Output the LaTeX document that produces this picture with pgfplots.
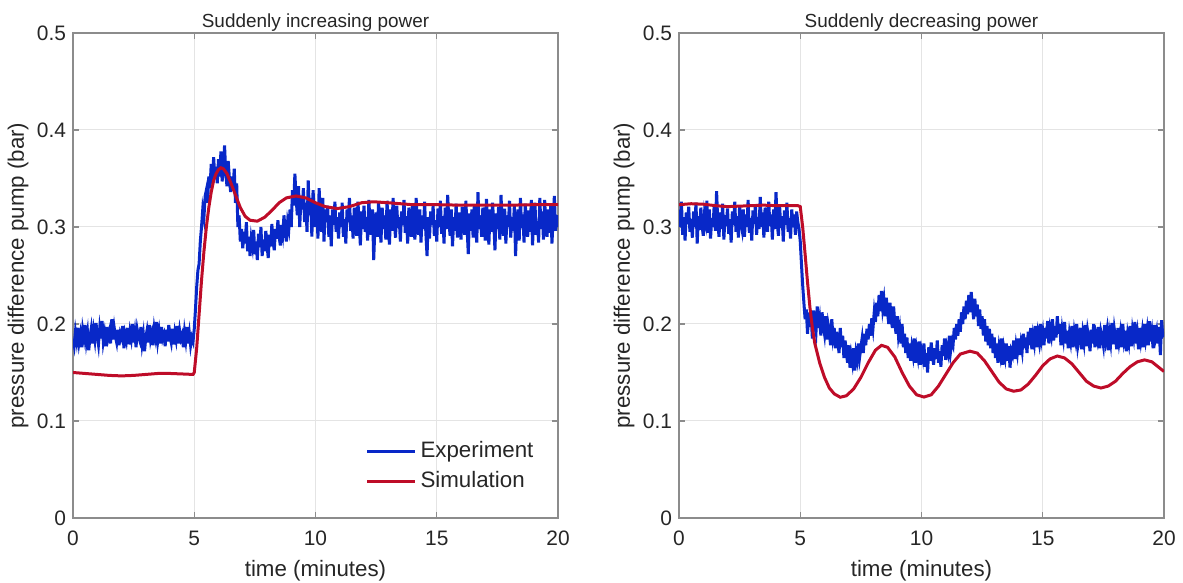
\documentclass[border=0pt]{standalone}
\usepackage{fontspec}
\setmainfont{Liberation Sans}
\usepackage{pgfplots}
\pgfplotsset{compat=1.18}
\usepackage{pgfplotstable}
\definecolor{expblue}{RGB}{8,40,200}
\definecolor{simred}{RGB}{190,12,40}
\definecolor{axgray}{RGB}{140,140,140}
\definecolor{gridgray}{RGB}{228,228,228}
\definecolor{txtgray}{RGB}{38,38,38}

% Experiment, left (sampled every 0.05 min from t=0 to t=20)
\pgfplotstableread[row sep=\\]{y\\
0.185\\0.178\\0.192\\0.183\\0.196\\0.181\\0.189\\0.176\\0.194\\0.186\\
0.199\\0.182\\0.191\\0.173\\0.187\\0.195\\0.180\\0.193\\0.184\\0.201\\
0.188\\0.179\\0.195\\0.185\\0.203\\0.182\\0.190\\0.177\\0.197\\0.186\\
0.192\\0.180\\0.205\\0.184\\0.196\\0.187\\0.181\\0.194\\0.178\\0.190\\
0.186\\0.198\\0.175\\0.189\\0.183\\0.196\\0.179\\0.192\\0.185\\0.200\\
0.181\\0.191\\0.176\\0.194\\0.187\\0.183\\0.197\\0.180\\0.189\\0.172\\
0.186\\0.193\\0.181\\0.199\\0.184\\0.190\\0.178\\0.195\\0.187\\0.202\\
0.183\\0.192\\0.180\\0.197\\0.185\\0.189\\0.177\\0.194\\0.182\\0.199\\
0.187\\0.181\\0.195\\0.179\\0.191\\0.184\\0.198\\0.180\\0.193\\0.185\\
0.189\\0.176\\0.192\\0.183\\0.197\\0.180\\0.190\\0.178\\0.186\\0.182\\
0.195\\0.215\\0.238\\0.255\\0.262\\0.285\\0.300\\0.318\\0.310\\0.332\\
0.338\\0.325\\0.352\\0.340\\0.365\\0.348\\0.372\\0.350\\0.362\\0.345\\
0.370\\0.352\\0.378\\0.347\\0.360\\0.384\\0.355\\0.342\\0.368\\0.350\\
0.336\\0.352\\0.340\\0.360\\0.325\\0.345\\0.300\\0.312\\0.285\\0.298\\
0.278\\0.295\\0.283\\0.305\\0.275\\0.290\\0.270\\0.288\\0.280\\0.297\\
0.272\\0.285\\0.266\\0.293\\0.279\\0.300\\0.270\\0.287\\0.275\\0.296\\
0.282\\0.268\\0.292\\0.280\\0.303\\0.285\\0.276\\0.298\\0.288\\0.307\\
0.290\\0.281\\0.302\\0.293\\0.312\\0.296\\0.285\\0.305\\0.298\\0.318\\
0.300\\0.338\\0.322\\0.355\\0.330\\0.312\\0.342\\0.300\\0.330\\0.318\\
0.340\\0.305\\0.325\\0.295\\0.348\\0.312\\0.330\\0.290\\0.338\\0.315\\
0.300\\0.325\\0.288\\0.340\\0.310\\0.295\\0.330\\0.285\\0.318\\0.305\\
0.322\\0.290\\0.312\\0.280\\0.318\\0.302\\0.326\\0.295\\0.310\\0.288\\
0.315\\0.300\\0.325\\0.290\\0.308\\0.283\\0.318\\0.305\\0.330\\0.296\\
0.312\\0.288\\0.320\\0.302\\0.291\\0.326\\0.305\\0.281\\0.316\\0.298\\
0.322\\0.295\\0.310\\0.286\\0.328\\0.303\\0.292\\0.318\\0.266\\0.300\\
0.315\\0.290\\0.325\\0.305\\0.284\\0.320\\0.298\\0.312\\0.287\\0.327\\
0.300\\0.282\\0.318\\0.296\\0.330\\0.305\\0.289\\0.322\\0.299\\0.310\\
0.285\\0.316\\0.302\\0.328\\0.294\\0.311\\0.283\\0.320\\0.305\\0.290\\
0.324\\0.300\\0.287\\0.330\\0.306\\0.292\\0.318\\0.284\\0.312\\0.298\\
0.326\\0.294\\0.270\\0.310\\0.288\\0.316\\0.302\\0.322\\0.291\\0.307\\
0.285\\0.319\\0.300\\0.327\\0.293\\0.311\\0.283\\0.320\\0.298\\0.333\\
0.306\\0.291\\0.318\\0.280\\0.310\\0.296\\0.324\\0.289\\0.315\\0.301\\
0.287\\0.321\\0.305\\0.292\\0.327\\0.300\\0.272\\0.314\\0.296\\0.318\\
0.289\\0.323\\0.303\\0.284\\0.336\\0.298\\0.312\\0.290\\0.320\\0.305\\
0.286\\0.329\\0.300\\0.282\\0.318\\0.295\\0.325\\0.306\\0.276\\0.314\\
0.298\\0.321\\0.287\\0.333\\0.302\\0.291\\0.319\\0.283\\0.312\\0.300\\
0.327\\0.289\\0.310\\0.296\\0.322\\0.270\\0.305\\0.318\\0.286\\0.330\\
0.299\\0.313\\0.284\\0.324\\0.302\\0.290\\0.317\\0.295\\0.328\\0.281\\
0.310\\0.325\\0.292\\0.306\\0.284\\0.330\\0.298\\0.316\\0.287\\0.328\\
0.301\\0.290\\0.318\\0.294\\0.323\\0.283\\0.308\\0.332\\0.296\\0.312\\
0.300\\
}\expL

% Experiment, right (sampled every 0.05 min)
\pgfplotstableread[row sep=\\]{y\\
0.318\\0.300\\0.326\\0.292\\0.310\\0.286\\0.315\\0.303\\0.321\\0.295\\
0.308\\0.289\\0.316\\0.300\\0.325\\0.283\\0.311\\0.297\\0.320\\0.302\\
0.291\\0.313\\0.305\\0.327\\0.294\\0.318\\0.288\\0.309\\0.300\\0.322\\
0.296\\0.337\\0.304\\0.290\\0.315\\0.298\\0.324\\0.287\\0.312\\0.301\\
0.319\\0.293\\0.308\\0.284\\0.316\\0.302\\0.326\\0.295\\0.311\\0.289\\
0.322\\0.304\\0.297\\0.318\\0.290\\0.313\\0.300\\0.328\\0.294\\0.309\\
0.286\\0.317\\0.303\\0.323\\0.292\\0.310\\0.298\\0.331\\0.300\\0.315\\
0.289\\0.320\\0.306\\0.295\\0.326\\0.301\\0.313\\0.287\\0.318\\0.298\\
0.336\\0.304\\0.291\\0.321\\0.299\\0.311\\0.285\\0.317\\0.302\\0.325\\
0.295\\0.309\\0.288\\0.318\\0.300\\0.313\\0.292\\0.316\\0.305\\0.298\\
0.285\\0.262\\0.240\\0.222\\0.205\\0.215\\0.190\\0.212\\0.197\\0.208\\
0.185\\0.214\\0.200\\0.192\\0.218\\0.196\\0.205\\0.188\\0.212\\0.199\\
0.190\\0.208\\0.184\\0.200\\0.193\\0.178\\0.205\\0.187\\0.196\\0.175\\
0.192\\0.181\\0.170\\0.196\\0.176\\0.188\\0.165\\0.183\\0.172\\0.160\\
0.178\\0.155\\0.168\\0.160\\0.175\\0.152\\0.170\\0.163\\0.180\\0.166\\
0.176\\0.185\\0.170\\0.190\\0.178\\0.195\\0.184\\0.200\\0.188\\0.206\\
0.196\\0.212\\0.202\\0.222\\0.208\\0.230\\0.213\\0.234\\0.216\\0.225\\
0.208\\0.227\\0.212\\0.200\\0.222\\0.205\\0.196\\0.218\\0.200\\0.190\\
0.208\\0.188\\0.196\\0.180\\0.200\\0.176\\0.190\\0.170\\0.186\\0.165\\
0.180\\0.162\\0.176\\0.168\\0.185\\0.160\\0.174\\0.166\\0.182\\0.158\\
0.172\\0.165\\0.180\\0.156\\0.170\\0.150\\0.176\\0.162\\0.181\\0.168\\
0.158\\0.175\\0.164\\0.183\\0.160\\0.172\\0.156\\0.178\\0.167\\0.185\\
0.163\\0.176\\0.170\\0.188\\0.172\\0.182\\0.178\\0.196\\0.184\\0.200\\
0.188\\0.205\\0.192\\0.212\\0.200\\0.218\\0.205\\0.224\\0.210\\0.230\\
0.212\\0.233\\0.218\\0.205\\0.226\\0.208\\0.220\\0.198\\0.215\\0.195\\
0.208\\0.188\\0.205\\0.182\\0.198\\0.178\\0.195\\0.175\\0.190\\0.170\\
0.186\\0.165\\0.180\\0.160\\0.176\\0.168\\0.185\\0.158\\0.174\\0.166\\
0.180\\0.162\\0.177\\0.155\\0.172\\0.168\\0.183\\0.164\\0.178\\0.170\\
0.185\\0.168\\0.180\\0.172\\0.190\\0.175\\0.186\\0.170\\0.192\\0.178\\
0.196\\0.174\\0.188\\0.180\\0.198\\0.176\\0.190\\0.182\\0.200\\0.184\\
0.192\\0.178\\0.196\\0.185\\0.203\\0.180\\0.195\\0.188\\0.205\\0.183\\
0.198\\0.186\\0.208\\0.190\\0.200\\0.178\\0.194\\0.185\\0.202\\0.180\\
0.193\\0.175\\0.190\\0.182\\0.198\\0.176\\0.192\\0.184\\0.200\\0.178\\
0.186\\0.196\\0.174\\0.190\\0.181\\0.199\\0.177\\0.193\\0.185\\0.172\\
0.194\\0.180\\0.200\\0.176\\0.189\\0.183\\0.197\\0.175\\0.192\\0.186\\
0.178\\0.199\\0.184\\0.193\\0.173\\0.190\\0.181\\0.201\\0.179\\0.195\\
0.186\\0.174\\0.196\\0.182\\0.191\\0.176\\0.200\\0.184\\0.193\\0.172\\
0.189\\0.181\\0.198\\0.177\\0.194\\0.186\\0.202\\0.180\\0.190\\0.174\\
0.196\\0.183\\0.192\\0.176\\0.200\\0.185\\0.194\\0.178\\0.203\\0.182\\
0.191\\0.175\\0.199\\0.186\\0.193\\0.180\\0.197\\0.168\\0.204\\0.188\\
0.190\\
}\expR

\pgfplotsset{
  myax/.style={
    width=242.5bp, height=242.5bp, scale only axis,
    xmin=0, xmax=20, ymin=0, ymax=0.5,
    xtick={0,5,10,15,20},
    ytick={0,0.1,0.2,0.3,0.4,0.5},
    /pgf/number format/assume math mode=true,
    grid=major,
    major grid style={gridgray, line width=0.5bp},
    axis line style={axgray, line width=0.6bp},
    tick style={axgray, line width=0.6bp},
    tick align=inside,
    major tick length=3bp,
    ticklabel style={font=\fontsize{10.5}{12}\selectfont, text=txtgray},
    xticklabel style={yshift=-3bp},
    label style={font=\fontsize{11.2}{13}\selectfont, text=txtgray},
    xlabel={time (minutes)},
    ylabel={pressure difference pump (bar)},
    xlabel style={at={(axis description cs:0.5,-0.1216)}, anchor=base},
    ylabel style={at={(axis description cs:-0.1134,0.5)}, anchor=center},
    title style={font=\fontsize{9.5}{11}\selectfont, text=txtgray, at={(axis description cs:0.5,1)}, anchor=south, inner sep=0pt, yshift=-5.5bp},
  }
}

\begin{document}
\begin{tikzpicture}
\begin{axis}[myax, at={(36.5bp,32.5bp)}, anchor=south west,
  title={Suddenly increasing power},
  legend style={draw=none, fill=none, at={(axis description cs:0.59,0.175)}, anchor=north west,
    font=\fontsize{11.2}{13}\selectfont, text=txtgray, row sep=1.5bp},
  legend cell align=left,
  legend image code/.code={\draw[#1] (0bp,0bp) -- (24bp,0bp);},
]
\addplot[expblue, line width=1.5bp] table[x expr=\coordindex*0.05, y=y] {\expL};
\addlegendentry{Experiment}
\addplot[simred, line width=1.5bp] coordinates {
(0,0.150) (0.5,0.149) (1,0.148) (1.5,0.147) (2,0.1465) (2.5,0.147) (3,0.148) (3.5,0.149)
(4,0.149) (4.5,0.1485) (4.95,0.148) (5.0,0.150) (5.1,0.175) (5.2,0.21) (5.3,0.245)
(5.4,0.275) (5.5,0.300) (5.6,0.320) (5.7,0.336) (5.8,0.348) (5.9,0.355) (6.0,0.359)
(6.1,0.361) (6.2,0.360) (6.35,0.355) (6.5,0.346) (6.7,0.333) (6.9,0.320) (7.1,0.311)
(7.3,0.307) (7.6,0.306) (7.9,0.310) (8.2,0.317) (8.5,0.325) (8.8,0.330) (9.2,0.332)
(9.6,0.330) (10.0,0.325) (10.4,0.321) (10.9,0.319) (11.4,0.321) (11.9,0.325) (12.4,0.326)
(13.0,0.325) (13.5,0.324) (14,0.323) (15,0.323) (16,0.3225) (17,0.3225) (18,0.3225)
(19,0.323) (20,0.323)
};
\addlegendentry{Simulation}
\end{axis}

\begin{axis}[myax, at={(339.5bp,32.5bp)}, anchor=south west,
  title={Suddenly decreasing power},
]
\addplot[expblue, line width=1.5bp] table[x expr=\coordindex*0.05, y=y] {\expR};
\addplot[simred, line width=1.5bp] coordinates {
(0,0.323) (0.5,0.324) (1,0.3235) (1.5,0.322) (2,0.321) (2.5,0.3215) (3,0.322) (3.5,0.3225)
(4,0.322) (4.5,0.322) (4.9,0.322) (5.0,0.321) (5.1,0.30) (5.2,0.272) (5.3,0.243)
(5.4,0.217) (5.5,0.196) (5.6,0.180) (5.8,0.160) (6.0,0.145) (6.2,0.134) (6.4,0.128)
(6.65,0.1245) (6.9,0.126) (7.2,0.133) (7.5,0.145) (7.8,0.160) (8.1,0.173) (8.35,0.178)
(8.6,0.176) (8.9,0.166) (9.2,0.150) (9.5,0.136) (9.8,0.127) (10.1,0.1247) (10.4,0.127)
(10.7,0.136) (11.0,0.148) (11.3,0.160) (11.6,0.169) (12.0,0.172) (12.3,0.170) (12.6,0.162)
(12.9,0.151) (13.2,0.140) (13.5,0.133) (13.8,0.1307) (14.1,0.132) (14.4,0.138) (14.7,0.147)
(15.0,0.157) (15.3,0.164) (15.6,0.167) (15.9,0.165) (16.2,0.159) (16.5,0.150) (16.8,0.141)
(17.1,0.136) (17.4,0.134) (17.7,0.136) (18.0,0.141) (18.3,0.149) (18.6,0.156) (18.9,0.161)
(19.2,0.163) (19.5,0.161) (19.8,0.155) (20.0,0.151)
};
\end{axis}
\pgfresetboundingbox
\path (0,0) rectangle (591.5bp,291.5bp);
\end{tikzpicture}
\end{document}
